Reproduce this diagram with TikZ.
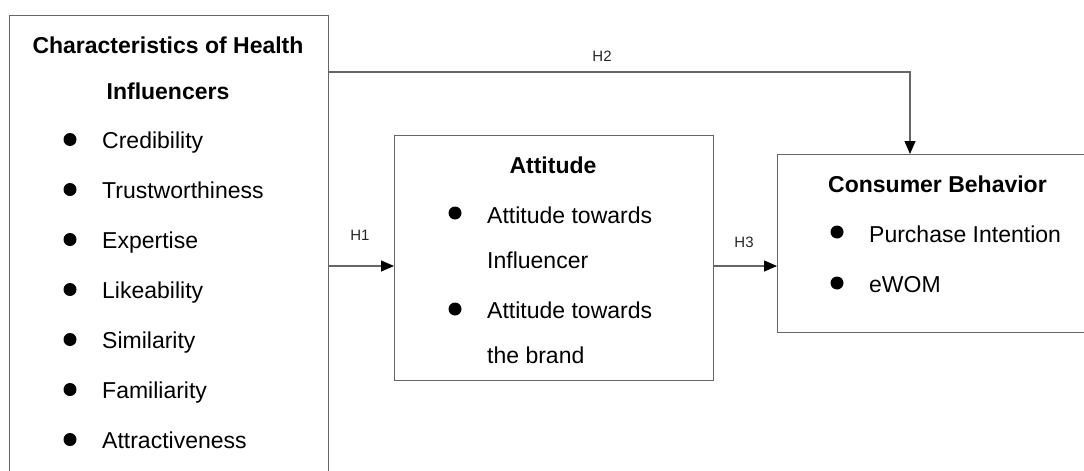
\documentclass[tikz,border=0pt]{standalone}
\usepackage{fontspec}
\setmainfont{Liberation Sans}
\usetikzlibrary{arrows.meta}
\begin{document}
\begin{tikzpicture}[x=1pt,y=-1pt,
  box/.style={draw=black!60, line width=1.1pt, rectangle, anchor=north west, inner sep=0},
  txt/.style={anchor=base west, inner sep=0, font=\fontsize{23}{23}\selectfont},
  ttl/.style={anchor=base, inner sep=0, font=\fontsize{23}{23}\selectfont\bfseries},
  ttlw/.style={anchor=base west, inner sep=0, font=\fontsize{23}{23}\selectfont\bfseries},
  hyp/.style={anchor=base, inner sep=0, font=\fontsize{15}{15}\selectfont, text=black!85},
  dot/.style={circle, fill=black, inner sep=0, minimum size=13pt},
  link/.style={draw=black!60, line width=1.1pt, -{Triangle[length=13pt,width=11pt,color=black]}}
]
\useasboundingbox (0,0) rectangle (1084,471);

% the three construct boxes
\node[box, minimum width=319pt, minimum height=480pt] (chi) at (9,15) {};
\node[box, minimum width=319pt, minimum height=245pt] (att) at (394,135) {};
\node[box, minimum width=330pt, minimum height=178pt] (con) at (777,154) {};

% characteristics of health influencers
\node[ttl] (chit1) at (168,53) {Characteristics of Health};
\node[ttl] (chit2) at (168,99) {Influencers};
\foreach \lbl [count=\i from 0] in {Credibility,Trustworthiness,Expertise,Likeability,Similarity,Familiarity,Attractiveness}{
  \node[dot] (chid\i) at (70,{139.5+50*\i}) {};
  \node[txt] (chii\i) at (102,{148+50*\i}) {\lbl};
}

% attitude
\node[ttl] (attt) at (553,173) {Attitude};
\node[dot] (attd0) at (455,213) {};
\node[txt] (atti0) at (487,223) {Attitude towards};
\node[txt] (atti1) at (487,268) {Influencer};
\node[dot] (attd1) at (455,309) {};
\node[txt] (atti2) at (487,318) {Attitude towards};
\node[txt] (atti3) at (487,363) {the brand};

% consumer behavior
\node[ttlw] (cont) at (828,192) {Consumer Behavior};
\node[dot] (cond0) at (837,232) {};
\node[txt] (coni0) at (869,242) {Purchase Intention};
\node[dot] (cond1) at (837,283) {};
\node[txt] (coni1) at (869,292) {eWOM};

% hypothesised paths
\coordinate (r1) at (0,266);
\coordinate (r2) at (910,72);
\draw[link] (chi.east |- r1) -- (att.west |- r1);
\draw[link] (att.east |- r1) -- (con.west |- r1);
\draw[link] (chi.east |- r2) -| (con.north -| r2);

\node[hyp] (h1) at (360,240) {H1};
\node[hyp] (h2) at (602,61) {H2};
\node[hyp] (h3) at (744,247) {H3};
\end{tikzpicture}
\end{document}
